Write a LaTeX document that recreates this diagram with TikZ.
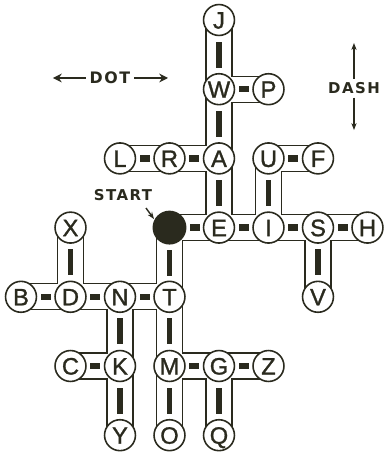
\documentclass[tikz,border=0pt]{standalone}
\usepackage{fontspec}
\setmainfont{Liberation Sans}
\newfontfamily\lettrefont[FakeBold=1.2]{Liberation Sans}
\newfontfamily\legendefont[LetterSpace=10]{DejaVu Sans}
\usetikzlibrary{arrows.meta, backgrounds}
\definecolor{encre}{RGB}{42,42,30}

\tikzset{
  lettre/.style={circle, draw=encre, line width=0.9pt, fill=white, text=encre,
    minimum size=17.6pt, inner sep=0pt, text height=9.7pt, text depth=0pt,
    font=\lettrefont\fontsize{13.5}{13.5}\selectfont},
  depart/.style={circle, fill=encre, minimum size=19.3pt, inner sep=0pt},
  tubeext/.style={draw=encre, line width=15.4pt},
  tubeint/.style={draw=white, line width=14.1pt},
  trait/.style={fill=encre, inner sep=0pt, minimum width=5.7pt, minimum height=3.6pt},
  barre/.style={fill=encre, inner sep=0pt, minimum width=3.4pt, minimum height=14.7pt},
  legende/.style={text=encre, inner sep=2pt, font=\legendefont\bfseries\fontsize{8.5}{8.5}\selectfont},
  fleche/.style={draw=encre, line width=1.2pt, -{Stealth[length=5pt, width=5pt]}},
  flechefine/.style={draw=encre, line width=0.6pt, -{Stealth[length=4pt, width=3pt]}}
}

% liens point (horizontaux) et trait (verticaux)
\def\points{S0/E, E/I, I/S, S/H, A/R, R/L, W/P, U/F, T/N, N/D, D/B, K/C, M/G, G/Z}
\def\traits{E/A, A/W, W/J, I/U, S/V, S0/T, T/M, M/O, N/K, K/Y, D/X, G/Q}
\edef\liens{\points, \traits}

\begin{document}
\begin{tikzpicture}[x=0.99cm, y=-1.384cm]
    \useasboundingbox (-0.4242,-0.289) rectangle (7.3333,6.2717);

    % Lettres
    \node[lettre] (J) at (4,0) {J};
    \node[lettre] (W) at (4,1) {W};
    \node[lettre] (P) at (5,1) {P};
    \node[lettre] (L) at (2,2) {L};
    \node[lettre] (R) at (3,2) {R};
    \node[lettre] (A) at (4,2) {A};
    \node[lettre] (U) at (5,2) {U};
    \node[lettre] (F) at (6,2) {F};
    \node[lettre] (X) at (1,3) {X};
    \node[depart] (S0) at (3,3) {};
    \node[lettre] (E) at (4,3) {E};
    \node[lettre] (I) at (5,3) {I};
    \node[lettre] (S) at (6,3) {S};
    \node[lettre] (H) at (7,3) {H};
    \node[lettre] (B) at (0,4) {B};
    \node[lettre] (D) at (1,4) {D};
    \node[lettre] (N) at (2,4) {N};
    \node[lettre] (T) at (3,4) {T};
    \node[lettre] (V) at (6,4) {V};
    \node[lettre] (C) at (1,5) {C};
    \node[lettre] (K) at (2,5) {K};
    \node[lettre] (M) at (3,5) {M};
    \node[lettre] (G) at (4,5) {G};
    \node[lettre] (Z) at (5,5) {Z};
    \node[lettre] (Y) at (2,6) {Y};
    \node[lettre] (O) at (3,6) {O};
    \node[lettre] (Q) at (4,6) {Q};

    % Tubes
    \begin{scope}[on background layer]
        \foreach \a/\b in \liens \draw[tubeext] (\a.center) -- (\b.center);
        \foreach \a/\b in \liens \draw[tubeint] (\a.center) -- (\b.center);
    \end{scope}
    \foreach \a/\b in \points \path (\a) -- (\b) node[midway, trait] {};
    \foreach \a/\b in \traits \path (\a) -- (\b) node[midway, barre] {};

    % Legende
    \node[legende, font=\legendefont\bfseries\fontsize{9}{9}\selectfont] (dot) at (1.798,0.838) {DOT};
    \coordinate (dotG) at (0.646,0.838);
    \coordinate (dotD) at (2.970,0.838);
    \draw[fleche] (dot) -- (dotG);
    \draw[fleche] (dot) -- (dotD);

    \node[legende] (dash) at (6.727,0.983) {DASH};
    \coordinate (dashH) at (6.727,0.332);
    \coordinate (dashB) at (6.727,1.590);
    \draw[flechefine] (dash) -- (dashH);
    \draw[flechefine] (dash) -- (dashB);

    \node[legende] (start) at (2.06,2.529) {START};
    \coordinate (startQ) at (2.525,2.717);
    \coordinate (startP) at (2.687,2.876);
    \draw[flechefine, line width=0.8pt] (startQ) -- (startP);
\end{tikzpicture}
\end{document}
